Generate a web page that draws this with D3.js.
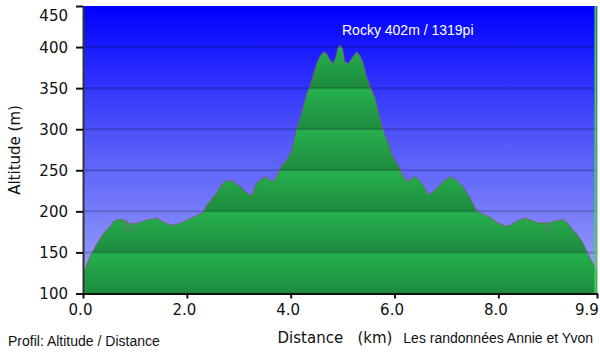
<!DOCTYPE html>
<html lang="fr">

<head>
    <meta charset="UTF-8">
    <script src="https://cdnjs.cloudflare.com/ajax/libs/d3/7.8.5/d3.min.js"></script>
    <title>Profil: Altitude / Distance</title>
    <style>
        body { margin: 0; background: #fff; }
        svg { display: block; }
    </style>
</head>

<body>
    <div id="viz"></div>

    <script>
        // profile: distance (km) and altitude (m)
        const distance = [0.00, 0.04, 0.14, 0.23, 0.33, 0.42, 0.52, 0.58, 0.65, 0.75, 0.81, 0.82, 0.83, 0.87, 0.93, 0.94, 0.95,
            1.00, 1.06, 1.16, 1.26, 1.35, 1.42, 1.52, 1.61, 1.74, 1.83, 1.93, 2.06, 2.19, 2.32, 2.38, 2.48, 2.57, 2.64,
            2.73, 2.83, 2.99, 3.15, 3.25, 3.34, 3.50, 3.60, 3.66, 3.76, 3.83, 3.92, 4.02, 4.11, 4.21, 4.31, 4.37, 4.43,
            4.50, 4.56, 4.63, 4.69, 4.76, 4.82, 4.87, 4.91, 4.95, 5.00, 5.04, 5.11, 5.20, 5.27, 5.33, 5.40, 5.46, 5.53,
            5.62, 5.68, 5.78, 5.88, 5.97, 6.07, 6.17, 6.26, 6.36, 6.45, 6.55, 6.65, 6.74, 6.84, 6.97, 7.08, 7.19, 7.32,
            7.45, 7.58, 7.68, 7.83, 7.96, 8.12, 8.22, 8.35, 8.51, 8.64, 8.76, 8.86, 8.94, 8.95, 8.96, 9.02, 9.09, 9.15,
            9.25, 9.34, 9.44, 9.53, 9.63, 9.73, 9.79, 9.88, 9.90]
        const altitude = [128, 130, 146, 156, 167, 175, 181, 187, 190, 190, 189, 176, 189, 186, 185, 174, 185,
            185, 186, 188, 190, 191, 192, 188, 185, 183, 185, 187, 191, 195, 199, 207, 215, 222, 230,
            236, 238, 232, 223, 219, 234, 242, 238, 236, 246, 256, 262, 274, 299, 319, 343, 352, 364,
            380, 388, 394, 392, 384, 380, 388, 399, 402, 398, 382, 380, 388, 394, 390, 380, 364, 352,
            339, 323, 299, 283, 266, 256, 242, 236, 242, 240, 232, 220, 224, 230, 238, 242, 238, 230,
            217, 201, 197, 193, 187, 182, 183, 188, 192, 189, 186, 186, 186, 173, 186, 187, 188, 189,
            190, 185, 177, 171, 161, 148, 140, 130, 128]

        const yTicks = [100, 150, 200, 250, 300, 350, 400, 450]
        const xTicks = [0, 2, 4, 6, 8, 9.9]

        const peakLabel = "Rocky 402m / 1319pi"
        const xTitle = "Distance   (km)"
        const yTitle = "Altitude (m)"
        const footLeft = "Profil: Altitude / Distance"
        const footRight = "Les randonnées Annie et Yvon"

        const profile = distance.map((d, i) => ({ km: d, alt: altitude[i] }))

        const fullWidth = 600
        const fullHeight = 354
        const plot = { left: 83, right: 597, top: 6, bottom: 293.5 }

        const svg = d3.select("#viz")
            .append("svg")
            .attr("width", fullWidth)
            .attr("height", fullHeight)

        const xScale = d3.scaleLinear()
            .domain([0, 9.9])
            .range([plot.left, plot.right])

        const yScale = d3.scaleLinear()
            .domain([100, 450])
            .range([plot.bottom, plot.top])

        const defs = svg.append("defs")

        // blue sky behind the profile
        const sky = defs.append("linearGradient")
            .attr("id", "sky")
            .attr("x1", 0).attr("y1", 0).attr("x2", 0).attr("y2", 1)
        sky.append("stop").attr("offset", "0%").attr("stop-color", "#0000ff")
        sky.append("stop").attr("offset", "45%").attr("stop-color", "#4f54fa")
        sky.append("stop").attr("offset", "100%").attr("stop-color", "#a2a8f9")

        // green bands, one per 50 m
        const green = defs.append("linearGradient")
            .attr("id", "greenBands")
            .attr("gradientUnits", "userSpaceOnUse")
            .attr("spreadMethod", "repeat")
            .attr("x1", 0).attr("x2", 0)
            .attr("y1", yScale(150)).attr("y2", yScale(100))
        green.append("stop").attr("offset", "0%").attr("stop-color", "#26b14e")
        green.append("stop").attr("offset", "100%").attr("stop-color", "#1d8b3e")

        svg.append("rect")
            .attr("x", plot.left)
            .attr("y", plot.top)
            .attr("width", plot.right - plot.left)
            .attr("height", plot.bottom - plot.top)
            .attr("fill", "url(#sky)")

        const area = d3.area()
            .x(d => xScale(d.km))
            .y0(yScale(100))
            .y1(d => yScale(d.alt))

        svg.append("path")
            .datum(profile)
            .attr("d", area)
            .attr("fill", "url(#greenBands)")

        // grid lines on top of the fill
        svg.append("g")
            .selectAll("line")
            .data(yTicks.filter(t => t > 100 && t < 450))
            .join("line")
            .attr("x1", plot.left)
            .attr("x2", plot.right)
            .attr("y1", d => yScale(d))
            .attr("y2", d => yScale(d))
            .attr("stroke", "rgba(0,0,30,0.2)")
            .attr("stroke-width", 2)

        const line = d3.line()
            .x(d => xScale(d.km))
            .y(d => yScale(d.alt))

        svg.append("path")
            .datum(profile)
            .attr("d", line)
            .attr("fill", "none")
            .attr("stroke", "rgba(125,95,100,0.6)")
            .attr("stroke-width", 1.2)

        // end marker at the right edge
        svg.append("line")
            .attr("x1", xScale(9.9) - 1.5).attr("x2", xScale(9.9) - 1.5)
            .attr("y1", plot.top).attr("y2", plot.bottom)
            .attr("stroke", "#3fd45c")
            .attr("stroke-width", 2)
        svg.append("line")
            .attr("x1", xScale(9.9) + 0.5).attr("x2", xScale(9.9) + 0.5)
            .attr("y1", plot.top).attr("y2", plot.bottom)
            .attr("stroke", "#c8c8c8")
            .attr("stroke-width", 1)

        // peak label
        const peak = profile.reduce((a, b) => (b.alt > a.alt ? b : a))
        svg.append("text")
            .attr("x", xScale(peak.km) + 2)
            .attr("y", yScale(450) + 29)
            .attr("fill", "#ffffff")
            .style("font-family", "'Liberation Sans', Arial, sans-serif")
            .style("font-size", "14px")
            .text(peakLabel)

        // axes
        const yAxis = svg.append("g")
            .attr("transform", `translate(${plot.left},0)`)
            .call(d3.axisLeft(yScale).tickValues(yTicks).tickSize(7).tickPadding(8).tickSizeOuter(0).tickFormat(d3.format("d")))
        yAxis.select(".domain").attr("stroke", "#333").attr("stroke-width", 2)
        yAxis.selectAll(".tick line").attr("stroke", "#111").attr("stroke-width", 2)
        yAxis.selectAll(".tick text")
            .attr("dy", d => d === 450 ? "0.95em" : "0.35em")

        const xAxis = svg.append("g")
            .attr("transform", `translate(0,${plot.bottom})`)
            .call(d3.axisBottom(xScale).tickValues(xTicks).tickSize(5).tickPadding(6).tickSizeOuter(0).tickFormat(d3.format(".1f")))
        xAxis.select(".domain").attr("stroke", "#111").attr("stroke-width", 2)
        xAxis.selectAll(".tick line").attr("stroke", "#111").attr("stroke-width", 2)
        xAxis.selectAll(".tick text")
            .attr("dx", d => d === 9.9 ? "-1.5em" : "-3")
            .attr("text-anchor", d => d === 9.9 ? "start" : "middle")

        svg.selectAll(".tick text")
            .attr("fill", "#111")
            .style("font-family", "'DejaVu Sans', Verdana, sans-serif")
            .style("font-size", "15px")

        // titles
        svg.append("text")
            .attr("transform", "translate(20,150) rotate(-90)")
            .attr("text-anchor", "middle")
            .attr("fill", "#111")
            .style("font-family", "'DejaVu Sans', Verdana, sans-serif")
            .style("font-size", "15px")
            .text(yTitle)

        svg.append("text")
            .attr("x", 335)
            .attr("y", 343)
            .attr("text-anchor", "middle")
            .attr("fill", "#111")
            .style("white-space", "pre")
            .style("font-family", "'DejaVu Sans', Verdana, sans-serif")
            .style("font-size", "15px")
            .text(xTitle)

        svg.append("text")
            .attr("x", 8)
            .attr("y", 346)
            .attr("fill", "#111")
            .style("font-family", "'Liberation Sans', Arial, sans-serif")
            .style("font-size", "14px")
            .text(footLeft)

        svg.append("text")
            .attr("x", 593)
            .attr("y", 343)
            .attr("text-anchor", "end")
            .attr("fill", "#111")
            .style("font-family", "'Liberation Sans', Arial, sans-serif")
            .style("font-size", "14px")
            .text(footRight)
    </script>
</body>

</html>
